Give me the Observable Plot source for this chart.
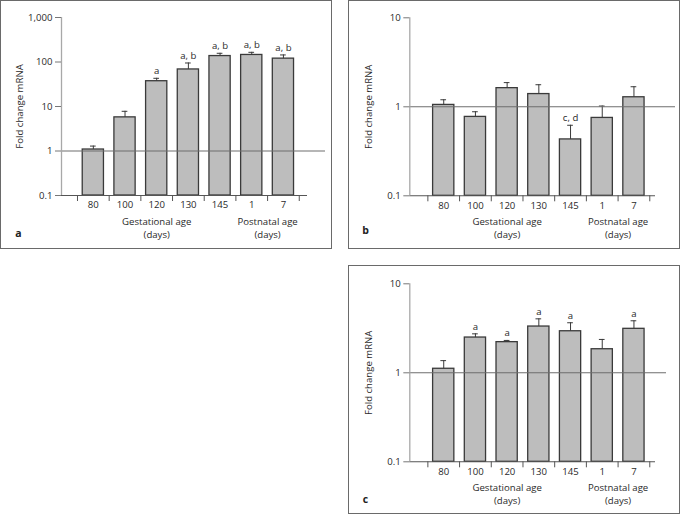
<!DOCTYPE html>
<html>
<head>
<meta charset="utf-8">
<script src="https://cdn.jsdelivr.net/npm/d3@7"></script>
<script src="https://cdn.jsdelivr.net/npm/@observablehq/plot@0.6"></script>
<style>
  html, body { margin: 0; padding: 0; background: #fff; }
  #page { position: relative; width: 681px; height: 515px; overflow: hidden; background: #fff; }
  .border { position: absolute; box-sizing: border-box; border: 1.5px solid #6a6a6a; }
  .chart { position: absolute; }
  .chart svg { display: block; }
</style>
</head>
<body>
<div id="page"></div>
<script>
// ---------- data ----------
const categories = ["80", "100", "120", "130", "145", "1", "7"];
const groups = ["Gestational", "Gestational", "Gestational", "Gestational", "Gestational", "Postnatal", "Postnatal"];
const groupNames = ["Gestational", "Postnatal"];
const groupLabels = ["Gestational age\n(days)", "Postnatal age\n(days)"];
const yLabel = "Fold change mRNA";

// panel a
const valuesA = [1.08, 5.7, 37, 68, 136, 144, 119];
const errorsA = [1.29, 7.8, 43, 95, 157, 165, 144];
const signifA = ["", "", "a", "a, b", "a, b", "a, b", "a, b"];
const ticksA = [0.1, 1, 10, 100, 1000];
const tickLabelsA = ["0.1", "1", "10", "100", "1,000"];

// panel b
const valuesB = [1.05, 0.77, 1.62, 1.39, 0.43, 0.75, 1.28];
const errorsB = [1.2, 0.88, 1.87, 1.77, 0.62, 1.02, 1.68];
const signifB = ["", "", "", "", "c, d", "", ""];
const ticksB = [0.1, 1, 10];
const tickLabelsB = ["0.1", "1", "10"];

// panel c
const valuesC = [1.11, 2.49, 2.21, 3.31, 2.93, 1.84, 3.12];
const errorsC = [1.37, 2.74, 2.31, 4.04, 3.65, 2.37, 3.84];
const signifC = ["", "a", "a", "a", "a", "", "a"];
const ticksC = [0.1, 1, 10];
const tickLabelsC = ["0.1", "1", "10"];

// ---------- layout ----------
const FONT = "'Open Sans', 'Noto Sans', sans-serif";
const TEXT = "#2a2a2a";
const page = document.getElementById("page");

function drawPanel(cfg) {
  const rows = categories.map((c, i) => ({
    i, cat: c, group: groups[i], value: cfg.values[i], err: cfg.errors[i], sig: cfg.signif[i]
  }));
  const groupRows = groupNames.map((g, k) => ({
    x: d3.mean(rows.filter(r => r.group === g), r => r.i),
    label: groupLabels[k]
  }));
  const boundaries = d3.range(categories.length + 1).map(k => k - 0.5);
  const half = 0.335;   // half bar width in category units
  const cap = 0.09;     // half cap width

  const plot = Plot.plot({
    width: cfg.w,
    height: cfg.h,
    marginLeft: cfg.yAxisX,
    marginRight: cfg.w - cfg.refEnd,
    marginTop: cfg.yTop,
    marginBottom: cfg.h - cfg.yBottom,
    style: { fontFamily: FONT, fontSize: "9.6px", color: TEXT, background: "transparent", overflow: "visible" },
    x: { type: "linear", domain: [cfg.xLo, cfg.xHi], range: [cfg.yAxisX, cfg.baseEnd], axis: null },
    y: { type: "log", domain: cfg.yDomain, range: [cfg.yBottom, cfg.yTop], axis: null },
    marks: [
      Plot.rectY(rows, { x1: d => d.i - half, x2: d => d.i + half, y1: cfg.yDomain[0], y2: "value",
        fill: "#bdbdbd", stroke: "#3a3a3a", strokeWidth: 1.3 }),
      Plot.ruleX(rows, { x: "i", y1: "value", y2: "err", stroke: "#3a3a3a", strokeWidth: 1 }),
      Plot.ruleY(rows, { y: "err", x1: d => d.i - cap, x2: d => d.i + cap, stroke: "#3a3a3a", strokeWidth: 1 }),
      Plot.ruleY([1], { stroke: "#6e6e6e", strokeWidth: 1.1 }),
      Plot.ruleY([cfg.yDomain[0]], { x1: cfg.xLo, x2: cfg.xHi, stroke: "#555", strokeWidth: 1.1 }),
      Plot.ruleX([cfg.xLo], { stroke: "#a8a8a8", strokeWidth: 1.3 }),
      Plot.axisY({ ticks: cfg.ticks, tickFormat: d => cfg.tickLabels[cfg.ticks.indexOf(d)],
        tickSize: 6, tickPadding: 3, stroke: "#777", fill: TEXT, label: null }),
      Plot.axisX({ ticks: boundaries, tickFormat: () => "", tickSize: 6, stroke: "#555", label: null }),
      Plot.axisX({ ticks: rows.map(r => r.i), tickFormat: i => categories[i], tickSize: 0,
        tickPadding: 6, fill: TEXT, label: null }),
      Plot.text(groupRows, { x: "x", text: "label", frameAnchor: "bottom", dy: 19.8,
        lineAnchor: "top", lineHeight: 1.37, fill: TEXT }),
      Plot.text(rows.filter(r => r.sig), { x: "i", y: "err", text: "sig", dy: -4,
        lineAnchor: "bottom", fill: TEXT }),
      Plot.text([yLabel], { frameAnchor: "left", rotate: -90, dx: cfg.labelX - cfg.yAxisX,
        textAnchor: "middle", lineAnchor: "middle", fill: TEXT }),
      Plot.text([cfg.letter], { frameAnchor: "bottom-left", dx: cfg.letterX - cfg.yAxisX,
        dy: cfg.letterY - cfg.yBottom, textAnchor: "middle", lineAnchor: "middle",
        fontWeight: "bold", fontSize: 10.5, fill: "#222" })
    ]
  });

  const border = document.createElement("div");
  border.className = "border";
  Object.assign(border.style, { left: cfg.left + "px", top: cfg.top + "px", width: cfg.w + "px", height: cfg.h + "px" });
  page.appendChild(border);
  const holder = document.createElement("div");
  holder.className = "chart";
  Object.assign(holder.style, { left: cfg.left + "px", top: cfg.top + "px" });
  holder.appendChild(plot);
  page.appendChild(holder);
}

drawPanel({
  letter: "a", values: valuesA, errors: errorsA, signif: signifA,
  ticks: ticksA, tickLabels: tickLabelsA, yDomain: [0.1, 1000],
  left: 0, top: 0, w: 332, h: 249,
  yAxisX: 61, xLo: -1.005, xHi: 6.76, baseEnd: 307, refEnd: 325,
  yTop: 17, yBottom: 195, labelX: 19, letterX: 18, letterY: 233
});
drawPanel({
  letter: "b", values: valuesB, errors: errorsB, signif: signifB,
  ticks: ticksB, tickLabels: tickLabelsB, yDomain: [0.1, 10],
  left: 348, top: 0, w: 332, h: 249,
  yAxisX: 61.3, xLo: -1.07, xHi: 6.68, baseEnd: 307, refEnd: 327,
  yTop: 17.3, yBottom: 195.3, labelX: 20, letterX: 17, letterY: 230
});
drawPanel({
  letter: "c", values: valuesC, errors: errorsC, signif: signifC,
  ticks: ticksC, tickLabels: tickLabelsC, yDomain: [0.1, 10],
  left: 348, top: 265, w: 332, h: 249,
  yAxisX: 61.3, xLo: -1.07, xHi: 6.68, baseEnd: 307, refEnd: 318,
  yTop: 18.3, yBottom: 196.3, labelX: 20, letterX: 17, letterY: 234
});
</script>
</body>
</html>
